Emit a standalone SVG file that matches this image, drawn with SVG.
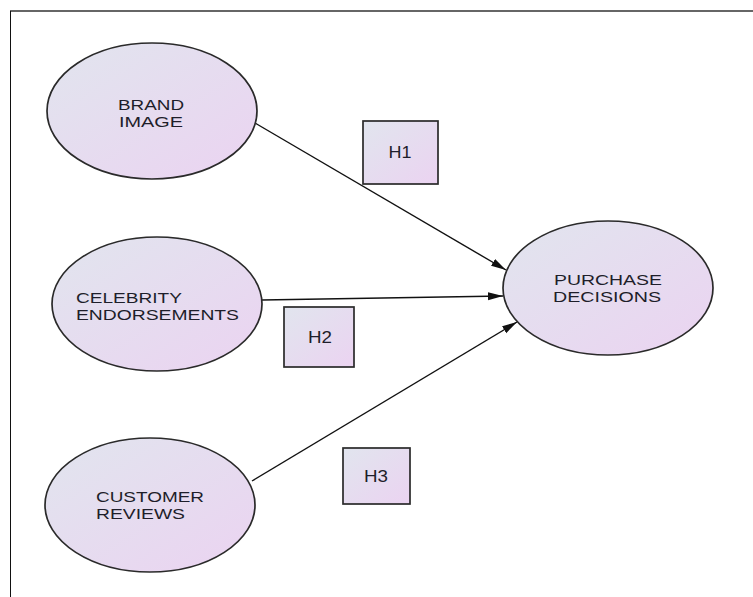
<svg xmlns="http://www.w3.org/2000/svg" width="753" height="597" viewBox="0 0 753 597">
  <defs>
    <linearGradient id="nodeFill" x1="0" y1="0" x2="1" y2="1">
      <stop offset="0" stop-color="#e1e5ee"/>
      <stop offset="1" stop-color="#ebd3f1"/>
    </linearGradient>
    <marker id="arrow" markerWidth="16" markerHeight="10" refX="15" refY="5" orient="auto" markerUnits="userSpaceOnUse">
      <path d="M0,1 L15,5 L0,9 Z" fill="#111"/>
    </marker>
    <style>
      .node { fill: url(#nodeFill); stroke: #2a2a2a; stroke-width: 1.7; }
      .label { font-family: "Liberation Sans", Arial, sans-serif; font-size: 15px; fill: #1e1e2a; }
      .hlabel { font-family: "Liberation Sans", Arial, sans-serif; font-size: 17px; fill: #1e1e2a; }
      .edge { stroke: #111; stroke-width: 1.4; fill: none; marker-end: url(#arrow); }
    </style>
  </defs>

  <rect width="753" height="597" fill="#ffffff"/>

  <!-- frame -->
  <line x1="10" y1="11" x2="753" y2="11" stroke="#666" stroke-width="2"/>
  <line x1="10.5" y1="11" x2="10.5" y2="597" stroke="#111" stroke-width="1"/>

  <!-- connectors -->
  <g id="connectors">
    <line class="edge" x1="255" y1="123" x2="506" y2="270"/>
    <line class="edge" x1="262" y1="300" x2="503" y2="296"/>
    <line class="edge" x1="252" y1="481" x2="517" y2="322"/>
  </g>

  <g id="brand-image">
    <ellipse class="node" cx="152" cy="111" rx="105" ry="68"/>
    <text class="label"><tspan x="118" y="109.5" textLength="66" lengthAdjust="spacingAndGlyphs">BRAND</tspan><tspan x="119" y="127" textLength="64" lengthAdjust="spacingAndGlyphs">IMAGE</tspan></text>
  </g>

  <g id="celebrity-endorsements">
    <ellipse class="node" cx="157" cy="304" rx="105" ry="67"/>
    <text class="label"><tspan x="76" y="302.5" textLength="106" lengthAdjust="spacingAndGlyphs">CELEBRITY</tspan><tspan x="76" y="320" textLength="163" lengthAdjust="spacingAndGlyphs">ENDORSEMENTS</tspan></text>
  </g>

  <g id="customer-reviews">
    <ellipse class="node" cx="150" cy="505" rx="105" ry="67"/>
    <text class="label"><tspan x="96" y="501.5" textLength="108" lengthAdjust="spacingAndGlyphs">CUSTOMER</tspan><tspan x="96" y="519" textLength="89" lengthAdjust="spacingAndGlyphs">REVIEWS</tspan></text>
  </g>

  <g id="purchase-decisions">
    <ellipse class="node" cx="608" cy="288" rx="105" ry="67"/>
    <text class="label"><tspan x="554" y="284.5" textLength="108" lengthAdjust="spacingAndGlyphs">PURCHASE</tspan><tspan x="553" y="302" textLength="108" lengthAdjust="spacingAndGlyphs">DECISIONS</tspan></text>
  </g>

  <g id="h1">
    <rect class="node" x="363" y="121" width="75" height="63"/>
    <text class="hlabel" x="388.5" y="158" textLength="23" lengthAdjust="spacingAndGlyphs">H1</text>
  </g>

  <g id="h2">
    <rect class="node" x="284" y="307" width="70" height="60"/>
    <text class="hlabel" x="308" y="343" textLength="24" lengthAdjust="spacingAndGlyphs">H2</text>
  </g>

  <g id="h3">
    <rect class="node" x="343" y="448" width="67" height="56"/>
    <text class="hlabel" x="364" y="482" textLength="24" lengthAdjust="spacingAndGlyphs">H3</text>
  </g>
</svg>
